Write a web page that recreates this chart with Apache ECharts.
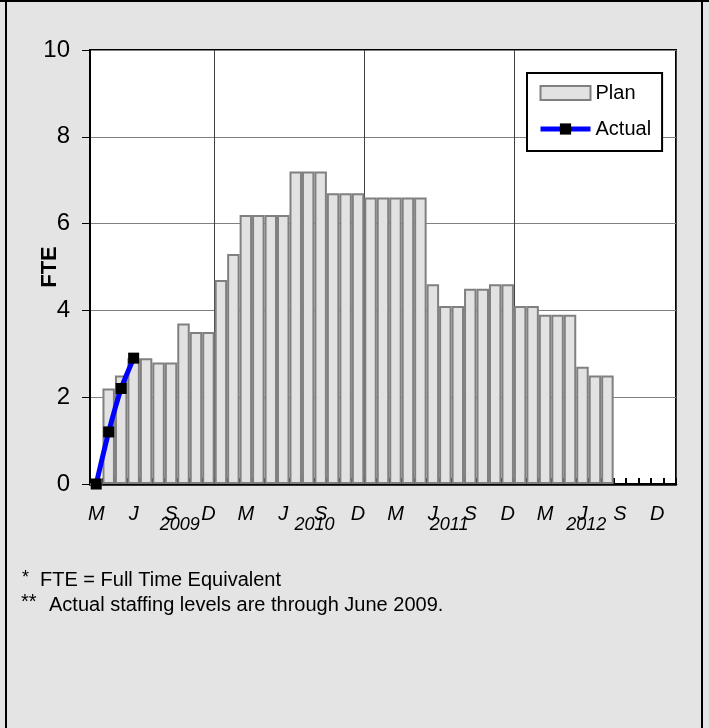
<!DOCTYPE html>
<html>
<head>
<meta charset="utf-8">
<script src="https://cdn.jsdelivr.net/npm/echarts@6/dist/echarts.min.js"></script>
<style>
html,body{margin:0;padding:0;background:#e4e4e4;}
#chart{width:709px;height:728px;}
</style>
</head>
<body>
<div id="chart"></div>
<script>
// ---- data ----
const categories = [
  'Mar 2009','Apr 2009','May 2009','Jun 2009','Jul 2009','Aug 2009','Sep 2009','Oct 2009','Nov 2009','Dec 2009',
  'Jan 2010','Feb 2010','Mar 2010','Apr 2010','May 2010','Jun 2010','Jul 2010','Aug 2010','Sep 2010','Oct 2010','Nov 2010','Dec 2010',
  'Jan 2011','Feb 2011','Mar 2011','Apr 2011','May 2011','Jun 2011','Jul 2011','Aug 2011','Sep 2011','Oct 2011','Nov 2011','Dec 2011',
  'Jan 2012','Feb 2012','Mar 2012','Apr 2012','May 2012','Jun 2012','Jul 2012','Aug 2012','Sep 2012','Oct 2012','Nov 2012','Dec 2012',
  'Jan 2013'
];
const planValues = [
  0, 2.2, 2.5, 2.9, 2.9, 2.8, 2.8, 3.7, 3.5, 3.5,
  4.7, 5.3, 6.2, 6.2, 6.2, 6.2, 7.2, 7.2, 7.2, 6.7, 6.7, 6.7,
  6.6, 6.6, 6.6, 6.6, 6.6, 4.6, 4.1, 4.1, 4.5, 4.5, 4.6, 4.6,
  4.1, 4.1, 3.9, 3.9, 3.9, 2.7, 2.5, 2.5, null, null, null, null,
  null
];
const actualValues = [0, 1.2, 2.2, 2.9];
const yTicks = [0, 2, 4, 6, 8, 10];
const quarterMonths = ['Mar', 'Jun', 'Sep', 'Dec'];
const yearLabels = ['2009', '2010', '2011', '2012'];
const yearLabelAt = [7.2, 18, 28.8, 39.8]; // month-index units along the time axis
const footnotes = [
  ['*', 'FTE = Full Time Equivalent'],
  ['**', 'Actual staffing levels are through June 2009.']
];

const FONT = '"Liberation Sans", Arial, sans-serif';
const chart = echarts.init(document.getElementById('chart'), null, {renderer: 'canvas'});

const option = {
  backgroundColor: '#e4e4e4',
  animation: false,
  textStyle: {fontFamily: FONT},
  grid: {
    left: 90, top: 50, width: 586, height: 434,
    show: true, backgroundColor: '#ffffff', borderColor: '#000000', borderWidth: 2
  },
  legend: {
    orient: 'vertical',
    left: 527, top: 73,
    padding: [10, 11, 12, 11],
    itemWidth: 50, itemHeight: 14, itemGap: 16,
    backgroundColor: '#ffffff', borderColor: '#000000', borderWidth: 2,
    textStyle: {fontSize: 20, color: '#000', fontFamily: FONT},
    lineStyle: {width: 5},
    data: [{name: 'Plan', icon: 'rect'}, {name: 'Actual'}]
  },
  xAxis: [
    {
      type: 'category',
      data: categories,
      boundaryGap: true,
      axisLine: {show: true, lineStyle: {color: '#000', width: 2.5}},
      axisTick: {show: true, interval: 0, inside: true, length: 6, lineStyle: {color: '#000', width: 2}},
      axisLabel: {
        interval: (i, v) => quarterMonths.includes(v.slice(0, 3)),
        formatter: v => v.charAt(0),
        fontSize: 20, fontStyle: 'italic', color: '#000', margin: 20, fontFamily: FONT
      },
      splitLine: {
        show: true,
        interval: (i, v) => v.startsWith('Jan') && i < categories.length - 1,
        lineStyle: {color: '#404040', width: 1}
      }
    },
    {
      type: 'value',
      position: 'bottom',
      min: 0, max: categories.length,
      axisLine: {show: false}, axisTick: {show: false}, splitLine: {show: false},
      axisLabel: {
        customValues: yearLabelAt,
        formatter: v => yearLabels[yearLabelAt.indexOf(v)] || '',
        fontSize: 18, fontStyle: 'italic', color: '#000', margin: 32, fontFamily: FONT
      }
    }
  ],
  yAxis: {
    type: 'value',
    min: yTicks[0], max: yTicks[yTicks.length - 1], interval: 2,
    name: 'FTE', nameLocation: 'middle', nameGap: 29, nameRotate: 90,
    nameMoveOverlap: false,
    nameTextStyle: {fontSize: 22, fontWeight: 'bold', color: '#000', fontFamily: FONT},
    axisLine: {show: true, lineStyle: {color: '#000', width: 2}},
    axisTick: {show: true, length: 8, lineStyle: {color: '#000', width: 1}},
    axisLabel: {fontSize: 24, color: '#000', margin: 20, fontFamily: FONT},
    splitLine: {show: true, lineStyle: {color: '#808080', width: 1}}
  },
  series: [
    {
      name: 'Plan', type: 'bar', xAxisIndex: 0,
      data: planValues,
      barCategoryGap: '0%',
      itemStyle: {color: '#e2e2e2', borderColor: '#808080', borderWidth: 2}
    },
    {
      name: 'Actual', type: 'line', xAxisIndex: 0,
      data: actualValues,
      smooth: 0.25,
      clip: false,
      showSymbol: true, showAllSymbol: true,
      lineStyle: {color: '#0000ff', width: 5},
      symbol: 'rect', symbolSize: 11,
      itemStyle: {color: '#000000', borderColor: '#000', borderWidth: 0},
      z: 5
    }
  ],
  graphic: [
    {type: 'rect', shape: {x: 0, y: 0, width: 709, height: 2}, style: {fill: '#000'}, silent: true},
    {type: 'rect', shape: {x: 5, y: 0, width: 2, height: 728}, style: {fill: '#000'}, silent: true},
    {type: 'rect', shape: {x: 701, y: 0, width: 2, height: 728}, style: {fill: '#000'}, silent: true},
    {type: 'text', left: 22, top: 569, style: {text: footnotes[0][0], font: '18px ' + FONT, fill: '#000'}},
    {type: 'text', left: 40, top: 570, style: {text: footnotes[0][1], font: '20px ' + FONT, fill: '#000'}},
    {type: 'text', left: 21, top: 592, style: {text: footnotes[1][0], font: '20px ' + FONT, fill: '#000'}},
    {type: 'text', left: 49, top: 595, style: {text: footnotes[1][1], font: '20px ' + FONT, fill: '#000'}}
  ]
};
chart.setOption(option);
</script>
</body>
</html>
